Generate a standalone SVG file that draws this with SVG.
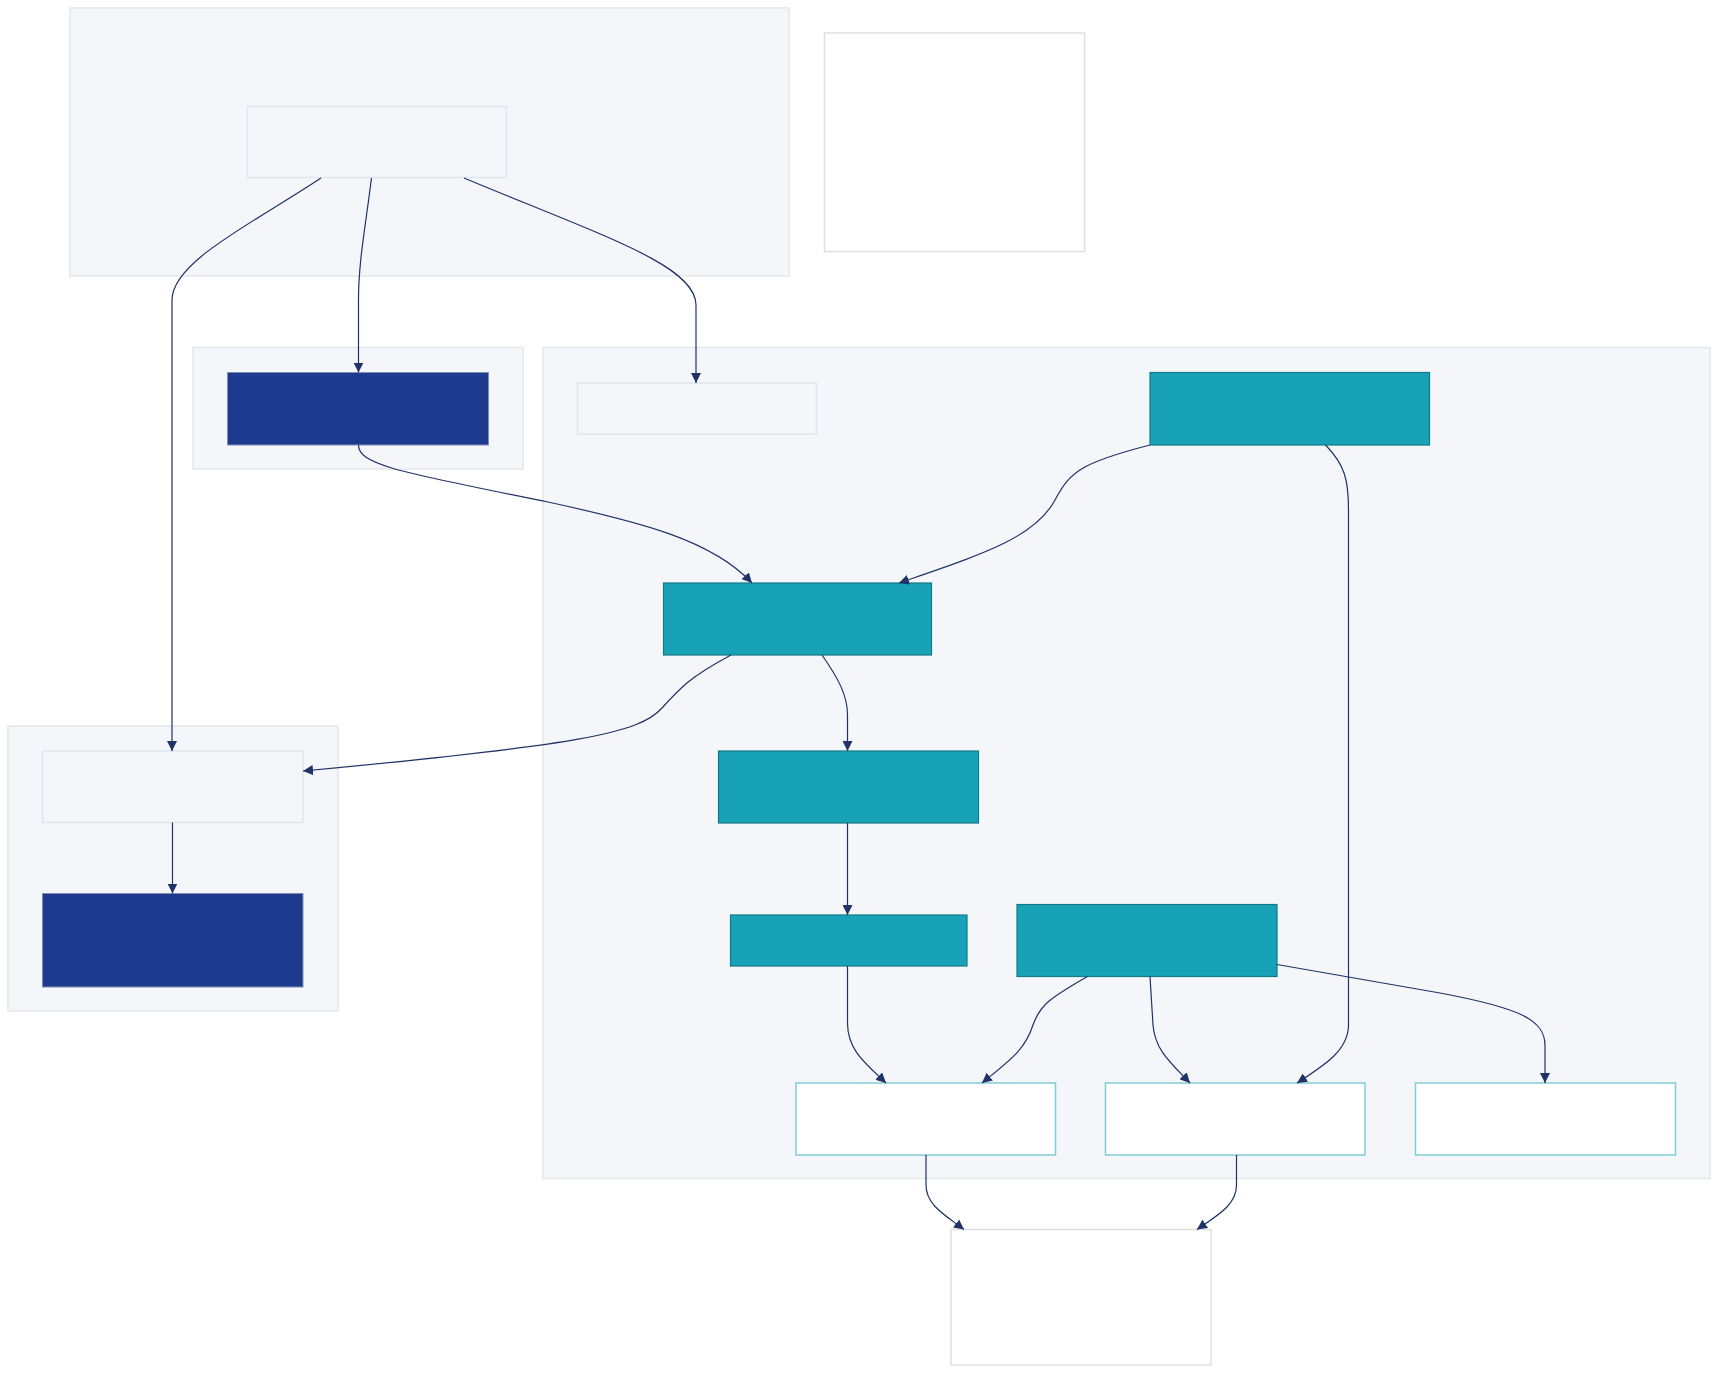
<svg xmlns="http://www.w3.org/2000/svg" width="1719" height="1373" viewBox="0 0 1719 1373">
<defs>
<style>
.cluster{fill:#f4f6fa;stroke:#e4e6ea;stroke-width:1.5}
.light{fill:#f4f6fa;stroke:#dfe6ee;stroke-width:1.5}
.dark{fill:#1e3a8f;stroke:#7f8fb0;stroke-width:1}
.teal{fill:#17a2b8;stroke:#137a85;stroke-width:1.2}
.wt{fill:#ffffff;stroke:#7fcdd8;stroke-width:1.5}
.plain{fill:#ffffff;stroke:#e0e0e0;stroke-width:1.5}
.edge{fill:none;stroke:#1f3366;stroke-width:1.2}
</style>
<marker id="arr" viewBox="0 0 10 10" refX="10" refY="5" markerWidth="10" markerHeight="10" markerUnits="userSpaceOnUse" orient="auto">
<path d="M0,0 L10,5 L0,10 z" fill="#1f3366"/>
</marker>
</defs>
<rect width="1719" height="1373" fill="#ffffff"/>
<g id="clusters">
<rect id="cluster-top" class="cluster" x="70" y="8" width="719" height="268"/>
<rect id="cluster-b" class="cluster" x="193" y="347.5" width="330" height="121.5"/>
<rect id="cluster-c" class="cluster" x="543" y="347.5" width="1167" height="831"/>
<rect id="cluster-d" class="cluster" x="8" y="726" width="330" height="285"/>
</g>
<g id="nodes">
<g id="nA"><rect class="light" x="247.5" y="106.5" width="259" height="71"/></g>
<g id="nLegend"><rect class="plain" x="824.5" y="33" width="260" height="218.5"/></g>
<g id="nB"><rect class="dark" x="227.5" y="372.5" width="261" height="72.5"/></g>
<g id="nC1"><rect class="light" x="577.5" y="383" width="239" height="51"/></g>
<g id="nT1"><rect class="teal" x="1150" y="372.5" width="279.5" height="72.5"/></g>
<g id="nT2"><rect class="teal" x="663.5" y="583" width="268" height="72"/></g>
<g id="nT3"><rect class="teal" x="718.5" y="751" width="260" height="72"/></g>
<g id="nT4"><rect class="teal" x="730.5" y="915" width="236.5" height="51"/></g>
<g id="nT5"><rect class="teal" x="1017" y="904.5" width="260" height="72"/></g>
<g id="nW1"><rect class="wt" x="796" y="1083" width="259.5" height="72"/></g>
<g id="nW2"><rect class="wt" x="1105.5" y="1083" width="259.5" height="72"/></g>
<g id="nW3"><rect class="wt" x="1415.5" y="1083" width="260" height="72"/></g>
<g id="nL1"><rect class="light" x="42.5" y="751" width="260.5" height="71.5"/></g>
<g id="nL2"><rect class="dark" x="42.5" y="893.5" width="260.5" height="93.5"/></g>
<g id="nBottom"><rect class="plain" x="951" y="1229.5" width="260" height="135.5"/></g>
</g>
<g id="connectors">
<path class="edge" marker-end="url(#arr)" d="M321,178 C250,225 172,262 172,300 L172,751"/>
<path class="edge" marker-end="url(#arr)" d="M371.5,178 C365,230 358.5,262 358.5,300 L358.5,372.5"/>
<path class="edge" marker-end="url(#arr)" d="M464,178 C600,235 696,265 696,305 L696,383"/>
<path class="edge" marker-end="url(#arr)" d="M358.5,445 C358.5,465 400,472 548,502 C640,522 712,540 752,583"/>
<path class="edge" marker-end="url(#arr)" d="M1150,445 C1080,463 1070,472 1055,500 C1035,538 980,555 899,583"/>
<path class="edge" marker-end="url(#arr)" d="M1325.5,445 C1345,465 1348.5,480 1348.5,510 L1348.5,1025 C1348.5,1050 1325,1065 1297,1083"/>
<path class="edge" marker-end="url(#arr)" d="M731,655 C690,677 680,688 662,708 C640,733 580,745 303,771"/>
<path class="edge" marker-end="url(#arr)" d="M822,655 C838,678 847.5,695 847.5,715 L847.5,751"/>
<path class="edge" marker-end="url(#arr)" d="M847.5,823 L847.5,915"/>
<path class="edge" marker-end="url(#arr)" d="M847.5,966 L847.5,1023 C847.5,1050 865,1063 886,1083"/>
<path class="edge" marker-end="url(#arr)" d="M1087.5,976.5 C1050,998 1040,1005 1033,1025 C1025,1050 1010,1060 982,1083"/>
<path class="edge" marker-end="url(#arr)" d="M1150,976.5 L1153,1025 C1155,1050 1170,1062 1190,1083"/>
<path class="edge" marker-end="url(#arr)" d="M1277,964.5 L1440,993 C1520,1008 1545,1020 1545,1045 L1545,1083"/>
<path class="edge" marker-end="url(#arr)" d="M926,1155 L926,1185 C926,1205 945,1215 964,1229.5"/>
<path class="edge" marker-end="url(#arr)" d="M1236.5,1155 L1236.5,1185 C1236.5,1205 1218,1215 1197,1229.5"/>
<path class="edge" marker-end="url(#arr)" d="M172.5,822.5 L172.5,893.5"/>
</g>
</svg>
